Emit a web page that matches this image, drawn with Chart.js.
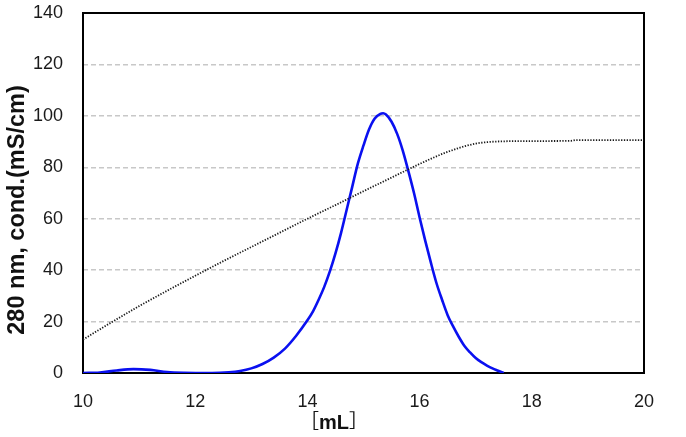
<!DOCTYPE html>
<html>
<head>
<meta charset="utf-8">
<script src="https://cdn.jsdelivr.net/npm/chart.js@4.4.1/dist/chart.umd.min.js"></script>
<style>
  html, body { margin: 0; padding: 0; background: #fff; }
  #wrap { width: 686px; height: 437px; }
</style>
</head>
<body>
<div id="wrap"><canvas id="chart"></canvas></div>
<script>
// 280 nm absorbance trace
const uvX = [10.0, 10.3, 10.6, 10.9, 11.2, 11.5, 11.8, 12.3, 12.6, 12.8, 13.0, 13.2, 13.4, 13.6, 13.8, 14.0, 14.1, 14.2, 14.3, 14.4, 14.5, 14.6, 14.7, 14.8, 14.9, 15.0, 15.1, 15.2, 15.3, 15.35, 15.4, 15.5, 15.6, 15.7, 15.8, 15.9, 16.0, 16.1, 16.2, 16.3, 16.4, 16.5, 16.6, 16.7, 16.8, 16.9, 17.0, 17.1, 17.2, 17.3, 17.4, 17.5];
const uvY = [0, 0.2, 1.0, 1.5, 1.2, 0.4, 0.1, 0, 0.3, 0.8, 1.8, 3.5, 6, 9.5, 14.5, 20.5, 24, 28.5, 33.5, 39.5, 46.5, 54.5, 63.5, 72.5, 81.5, 88.5, 94.8, 99, 100.8, 101, 100.5, 97.7, 93, 86.5, 78.5, 70, 60.5, 51.5, 43, 35, 28.5, 22.5, 18, 14, 10.5, 8, 5.8, 4.2, 2.9, 1.8, 0.9, 0];

// conductivity trace
const condX = [10.0, 10.5, 11.0, 11.5, 12.0, 12.5, 13.0, 13.5, 14.0, 14.5, 15.0, 15.5, 16.0, 16.5, 17.0, 17.5, 18.0, 18.7, 18.8, 20.0];
const condY = [13, 19.6, 26, 32, 37.8, 43.5, 49, 54.5, 60, 65.3, 70.7, 76, 81.3, 86, 89.2, 90.1, 90.2, 90.3, 90.6, 90.6];

const xTicks = [10, 12, 14, 16, 18, 20];
const yTicks = [0, 20, 40, 60, 80, 100, 120, 140];

const yTitle = "280 nm, cond.(mS/cm)";
const xUnit = "mL";

const FONT = "'Liberation Sans', Arial, sans-serif";

const frameAndTitles = {
  id: "frameAndTitles",
  beforeDatasetsDraw(chart) {
    const { ctx, chartArea: a } = chart;
    ctx.save();
    ctx.strokeStyle = "#000";
    ctx.lineWidth = 2;
    ctx.strokeRect(a.left, a.top, a.right - a.left, a.bottom - a.top);
    ctx.restore();
  },
  afterDraw(chart) {
    const { ctx } = chart;
    ctx.save();
    ctx.fillStyle = "#111";
    ctx.textAlign = "center";
    ctx.textBaseline = "middle";
    // y title
    ctx.translate(18, 210);
    ctx.rotate(-Math.PI / 2);
    ctx.font = "bold 23.5px " + FONT;
    ctx.fillText(yTitle, 0, 0);
    ctx.restore();

    // x title: ［mL］ with bold unit
    ctx.save();
    ctx.fillStyle = "#111";
    ctx.textBaseline = "middle";
    ctx.textAlign = "left";
    const normal = "19px " + FONT + ", 'Noto Sans CJK JP'";
    const bold = "bold 20px " + FONT;
    ctx.font = normal;
    const wl = ctx.measureText("［").width;
    const wr = ctx.measureText("］").width;
    ctx.font = bold;
    const wm = ctx.measureText(xUnit).width;
    let x = 334 - (wl + wm + wr) / 2;
    const y = 423;
    ctx.font = normal;
    ctx.fillText("［", x, y);
    x += wl;
    ctx.font = bold;
    ctx.fillText(xUnit, x, y);
    x += wm;
    ctx.font = normal;
    ctx.fillText("］", x, y);
    ctx.restore();
  }
};

const ctx = document.getElementById("chart");
const chart = new Chart(ctx, {
  type: "line",
  data: {
    datasets: [
      {
        label: "cond",
        data: condX.map((x, i) => ({ x, y: condY[i] })),
        borderColor: "#1a1a1a",
        borderWidth: 1.8,
        borderDash: [1.3, 1.5],
        pointRadius: 0,
        cubicInterpolationMode: "monotone",
        fill: false,
      },
      {
        label: "280 nm",
        data: uvX.map((x, i) => ({ x, y: uvY[i] })),
        borderColor: "#0a10f0",
        borderWidth: 2.6,
        pointRadius: 0,
        cubicInterpolationMode: "monotone",
        fill: false,
      },
    ],
  },
  options: {
    responsive: true,
    maintainAspectRatio: false,
    animation: false,
    layout: { padding: { left: 0, top: 13, right: 42, bottom: 0 } },
    plugins: { legend: { display: false }, tooltip: { enabled: false } },
    scales: {
      x: {
        type: "linear",
        min: 10,
        max: 20,
        afterFit(s) { s.height = 64; s.paddingLeft = 0; s.paddingRight = 0; },
        afterBuildTicks(s) { s.ticks = xTicks.map(v => ({ value: v })); },
        grid: { display: false, drawTicks: false },
        border: { display: false },
        ticks: { padding: 18, color: "#1a1a1a", font: { family: FONT, size: 18 } },
      },
      y: {
        min: 0,
        max: 140,
        afterFit(s) { s.width = 83; s.paddingTop = 0; s.paddingBottom = 0; },
        afterBuildTicks(s) { s.ticks = yTicks.map(v => ({ value: v })); },
        grid: { color: "#c8c8c8", lineWidth: 1.5, drawTicks: false },
        border: { display: false, dash: [5, 3] },
        ticks: { padding: 20, color: "#1a1a1a", font: { family: FONT, size: 18 } },
      },
    },
  },
  plugins: [frameAndTitles],
});
</script>
</body>
</html>
